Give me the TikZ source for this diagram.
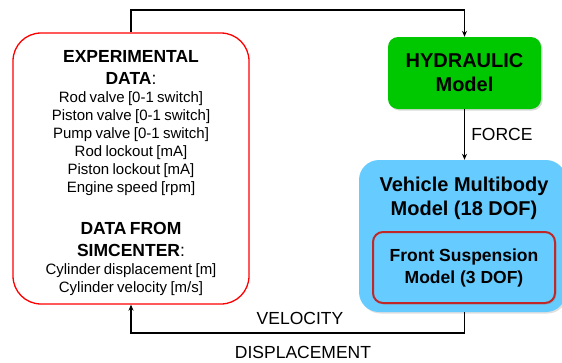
\documentclass[tikz,border=0pt]{standalone}
\usepackage{fontspec}
\setmainfont{Liberation Sans}
\usetikzlibrary{arrows.meta,shadows}

\definecolor{hydgreen}{RGB}{0,200,0}
\definecolor{mbblue}{RGB}{102,204,255}
\definecolor{susred}{RGB}{192,40,40}

\begin{document}
\begin{tikzpicture}[x=1pt, y=-1pt,
  every node/.style={inner sep=0pt},
  flow/.style={line width=1.6pt, -{Stealth[length=6pt,width=5pt]}},
  lbl/.style={font=\fontsize{17.5}{21}\selectfont},
  databox/.style={draw=red, line width=1.3pt, rounded corners=28pt, fill=white,
    minimum width=236pt, minimum height=271pt, text width=230pt, align=center},
  hydbox/.style={fill=hydgreen, rounded corners=10pt, minimum width=153pt, minimum height=72pt,
    align=center, drop shadow={opacity=0.3, shadow xshift=1.5pt, shadow yshift=-1.5pt},
    font=\fontsize{20}{24}\selectfont\bfseries},
  mbbox/.style={fill=mbblue, rounded corners=20pt, minimum width=207pt, minimum height=152pt,
    drop shadow={opacity=0.25, shadow xshift=1.5pt, shadow yshift=-1.5pt}},
  susbox/.style={draw=susred, line width=2pt, fill=mbblue, rounded corners=10pt,
    minimum width=182pt, minimum height=71pt, align=center,
    drop shadow={opacity=0.3, shadow xshift=1.5pt, shadow yshift=-1.5pt},
    font=\fontsize{17.5}{22}\selectfont\bfseries}]
  \useasboundingbox (0,0) rectangle (562,362);

  % blocks
  \node[databox] (data) at (131,168.5) {%
    {\fontsize{17.5}{22}\selectfont\rule{0pt}{21pt}\textbf{EXPERIMENTAL}\\ \textbf{DATA}:\par}
    {\fontsize{15}{18}\selectfont Rod valve [0-1 switch]\\ Piston valve [0-1 switch]\\
     Pump valve [0-1 switch]\\ Rod lockout [mA]\\ Piston lockout [mA]\\ Engine speed [rpm]\par}
    \vspace{20pt}
    {\fontsize{17.5}{22}\selectfont\textbf{DATA FROM}\\ \textbf{SIMCENTER}:\par}
    {\fontsize{15}{18}\selectfont Cylinder displacement [m]\\ Cylinder velocity [m/s]\par}};
  \node[hydbox] (hyd) at (464.5,73) {HYDRAULIC\\ Model};
  \node[mbbox] (mb) at (462.5,236) {};
  \node[font=\fontsize{20}{24}\selectfont\bfseries, align=center] (mbtxt) at (464,198.5) {Vehicle Multibody\\ Model (18 DOF)};
  \node[susbox] (sus) at (464,267.5) {Front Suspension\\ Model (3 DOF)};

  % connections
  \coordinate (top) at (0,10);
  \coordinate (bot) at (0,333);
  \draw[flow] (data.north) -- (data.north |- top) -| (hyd.north);
  \draw[flow] (hyd.south) -- node[lbl, right=6pt] (force) {FORCE} (hyd.south |- mb.north);
  \draw[flow] (hyd.south |- mb.south) -- (hyd.south |- bot) -| (data.south);
  \node[lbl] (vel) at (300,318) {VELOCITY};
  \node[lbl] (disp) at (303,352) {DISPLACEMENT};
\end{tikzpicture}
\end{document}
